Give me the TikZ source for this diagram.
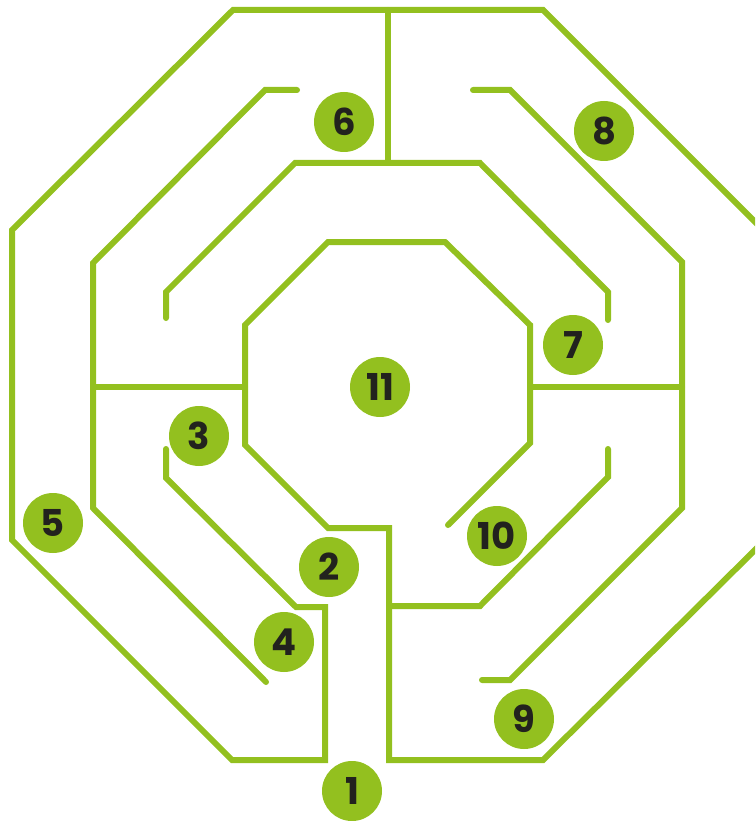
\documentclass[tikz,border=0pt]{standalone}
\usepackage{fontspec}
\setsansfont{Poppins}
\usetikzlibrary{positioning}
\definecolor{mazegreen}{RGB}{147,192,31}
\definecolor{numtext}{RGB}{34,34,30}

\begin{document}
\begin{tikzpicture}[
  x=1pt, y=-1pt,
  wall/.style={draw=mazegreen, line width=6pt, line cap=round, line join=miter},
  stop/.style={circle, fill=mazegreen, minimum size=60pt, inner sep=0pt,
               text=numtext, font=\sffamily\bfseries\fontsize{37}{37}\selectfont},
]

% === Frame (picture size) ===
\useasboundingbox (0,0) rectangle (755,821);
\clip (0,0) rectangle (755,821);

% === Walls ===
% long wall: outer octagon joined to the inner octagon
\draw[wall] (166,449) -- (166,478) -- (296,607) -- (325,607) -- (325,760)
  -- (232,760) -- (12,540) -- (12,230) -- (233,10) -- (543,10)
  -- (764,231) -- (764,541) -- (543,760) -- (389,760) -- (389,528)
  -- (328,528) -- (245,445) -- (245,325) -- (328,242) -- (445,242)
  -- (530,325) -- (530,443) -- (448,525);

% second ring, left and right halves
\draw[wall] (297,90) -- (265,90) -- (93,263) -- (93,508) -- (266,682);
\draw[wall] (473,90) -- (510,90) -- (682,262) -- (682,508) -- (510,680) -- (482,680);

% third ring, upper and lower right parts
\draw[wall] (166,318) -- (166,292) -- (295,163) -- (480,163) -- (608,292) -- (608,320);
\draw[wall] (389,606) -- (480,606) -- (608,477) -- (608,449);

% cross walls
\draw[wall] (388,10) -- (388,163);
\draw[wall] (93,387) -- (245,387);
\draw[wall] (530,387) -- (682,387);

% === Numbered stops ===
\node[stop] (s1) at (352,791) {1};
\node[stop] (s2) at (329,567) {2};
\node[stop] (s3) at (199,436) {3};
\node[stop] (s4) at (284,642) {4};
\node[stop] (s5) at (53,523) {5};
\node[stop] (s6) at (344,122) {6};
\node[stop] (s7) at (573,345) {7};
\node[stop] (s8) at (604,131) {8};
\node[stop] (s9) at (524,719) {9};
\node[stop] (s10) at (497,536) {10};
\node[stop] (s11) at (380,387) {11};

\end{tikzpicture}
\end{document}
